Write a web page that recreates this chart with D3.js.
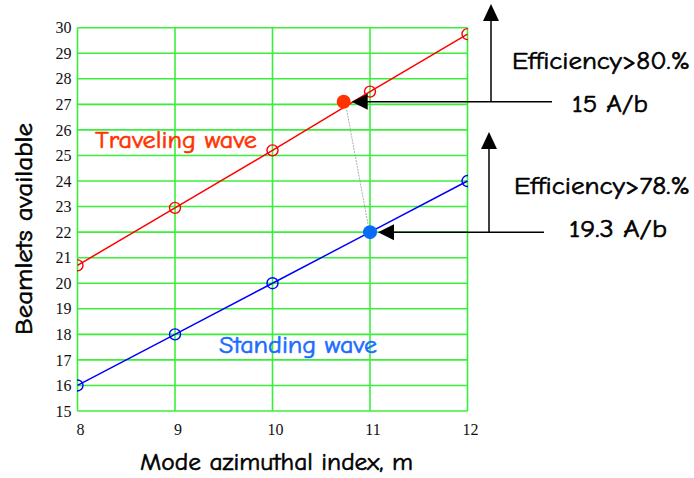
<!DOCTYPE html>
<html>
<head>
<meta charset="utf-8">
<script src="https://cdn.jsdelivr.net/npm/d3@7"></script>
<style>
  html, body { margin: 0; padding: 0; background: #fff; }
  svg { display: block; }
</style>
</head>
<body>
<svg id="chart" width="694" height="478"></svg>
<script>
// Mode azimuthal index vs. beamlets available
const modes = [8, 9, 10, 11, 12];
const travelingWave = [20.7, 22.95, 25.2, 27.5, 29.75];
const standingWave = [16, 18, 20, 22, 24];
const yTicks = [15, 16, 17, 18, 19, 20, 21, 22, 23, 24, 25, 26, 27, 28, 29, 30];

// Operating points (mode, beamlets) with their efficiency and current labels
const travelingPoint = [10.73, 27.1];
const standingPoint = [11, 22];
const travelingNotes = ["Efficiency>80.%", "15 A/b"];
const standingNotes = ["Efficiency>78.%", "19.3 A/b"];

const svg = d3.select("#chart");
const comic = "'Comic Sans MS', 'Comic Neue', 'DejaVu Sans', sans-serif";

const x = d3.scaleLinear().domain([8, 12]).range([77.5, 467.5]);
const y = d3.scaleLinear().domain([15, 30]).range([411, 27.7]);

// Plot-area clip for the series markers
svg.append("defs").append("clipPath").attr("id", "plot")
  .append("rect").attr("x", x(8) - 0.5).attr("y", 0)
  .attr("width", x(12) - x(8) + 1).attr("height", 478);

// Grid
const grid = svg.append("g");
grid.selectAll("line.h").data(yTicks).join("line")
  .attr("x1", x(8)).attr("x2", x(12))
  .attr("y1", d => y(d)).attr("y2", d => y(d))
  .attr("stroke", "#3aef3a").attr("stroke-width", 1.6);
grid.selectAll("line.v").data(modes).join("line")
  .attr("y1", y(15)).attr("y2", y(30))
  .attr("x1", d => x(d)).attr("x2", d => x(d))
  .attr("stroke", "#3aef3a").attr("stroke-width", 1.6);

// Axes (labels only)
const yAxis = d3.axisLeft(y).tickValues(yTicks).tickSize(0).tickPadding(6).tickFormat(d3.format("d"));
const gy = svg.append("g").attr("transform", `translate(${x(8)},0)`).call(yAxis);
gy.select(".domain").remove();
gy.selectAll("text").attr("font-family", "'Liberation Serif', 'Times New Roman', serif")
  .attr("font-size", 16).attr("fill", "#111");

const xAxis = d3.axisBottom(x).tickValues(modes).tickSize(0).tickPadding(13).tickFormat(d3.format("d"));
const gx = svg.append("g").attr("transform", `translate(2.5,${y(15)})`).call(xAxis);
gx.select(".domain").remove();
gx.selectAll("text").attr("font-family", "'Liberation Serif', 'Times New Roman', serif")
  .attr("font-size", 16).attr("fill", "#111");

// Series
const line = d3.line().x((d, i) => x(modes[i])).y(d => y(d));
function series(values, color) {
  const g = svg.append("g").attr("clip-path", "url(#plot)");
  g.append("path").datum(values).attr("d", line)
    .attr("fill", "none").attr("stroke", color).attr("stroke-width", 1.5);
  g.selectAll("circle").data(values).join("circle")
    .attr("cx", (d, i) => x(modes[i])).attr("cy", d => y(d)).attr("r", 5.5)
    .attr("fill", "none").attr("stroke", color).attr("stroke-width", 1.4);
}
series(travelingWave, "#ff0000");
series(standingWave, "#0000ff");

// Dotted link between operating points
svg.append("line")
  .attr("x1", x(travelingPoint[0]) + 3).attr("y1", y(travelingPoint[1]) + 8)
  .attr("x2", x(standingPoint[0]) - 2).attr("y2", y(standingPoint[1]) - 8)
  .attr("stroke", "#999").attr("stroke-width", 0.8).attr("stroke-dasharray", "2,1");

// Operating points
svg.append("circle").attr("cx", x(travelingPoint[0])).attr("cy", y(travelingPoint[1]))
  .attr("r", 7).attr("fill", "#ff3300");
svg.append("circle").attr("cx", x(standingPoint[0])).attr("cy", y(standingPoint[1]))
  .attr("r", 7).attr("fill", "#0a6cf5");

// Arrow callouts
function callout(pt, lineEnd, vx, vTop) {
  const px = x(pt[0]) + 8, py = y(pt[1]);
  const g = svg.append("g").attr("fill", "#000").attr("stroke", "#000");
  g.append("path").attr("d", `M${px},${py}L${px + 16},${py - 8}L${px + 16},${py + 8}Z`).attr("stroke", "none");
  g.append("line").attr("x1", px + 14).attr("x2", lineEnd).attr("y1", py).attr("y2", py).attr("stroke-width", 1.5);
  g.append("path").attr("d", `M${vx},${vTop}L${vx - 8},${vTop + 17}L${vx + 8},${vTop + 17}Z`).attr("stroke", "none");
  g.append("line").attr("x1", vx).attr("x2", vx).attr("y1", py).attr("y2", vTop + 15).attr("stroke-width", 1.5);
}
callout(travelingPoint, 552, 491, 4);
callout(standingPoint, 544, 489, 132);

function note(txt, tx, ty, len, size, color) {
  svg.append("text").attr("x", tx).attr("y", ty).text(txt)
    .attr("font-family", comic).attr("font-size", size).attr("fill", color || "#000")
    .attr("stroke", color || "#000").attr("stroke-width", 0.6)
    .attr("textLength", len).attr("lengthAdjust", "spacingAndGlyphs");
}
note(travelingNotes[0], 512, 69, 178, 25);
note(travelingNotes[1], 572, 112, 76, 25);
note(standingNotes[0], 514, 194, 176, 25);
note(standingNotes[1], 569, 237, 98, 25);

// Series labels
note("Traveling wave", 95, 148, 162, 24, "#ff3300");
note("Standing wave", 219, 353, 158, 24, "#1a6cff");

// Axis titles
note("Mode azimuthal index, m", 140, 470, 273, 25);
svg.append("text")
  .attr("transform", "translate(32,229) rotate(-90)")
  .attr("text-anchor", "middle")
  .attr("font-family", comic).attr("font-size", 25).attr("fill", "#000")
  .attr("stroke", "#000").attr("stroke-width", 0.6)
  .attr("textLength", 212).attr("lengthAdjust", "spacingAndGlyphs")
  .text("Beamlets available");
</script>
</body>
</html>
